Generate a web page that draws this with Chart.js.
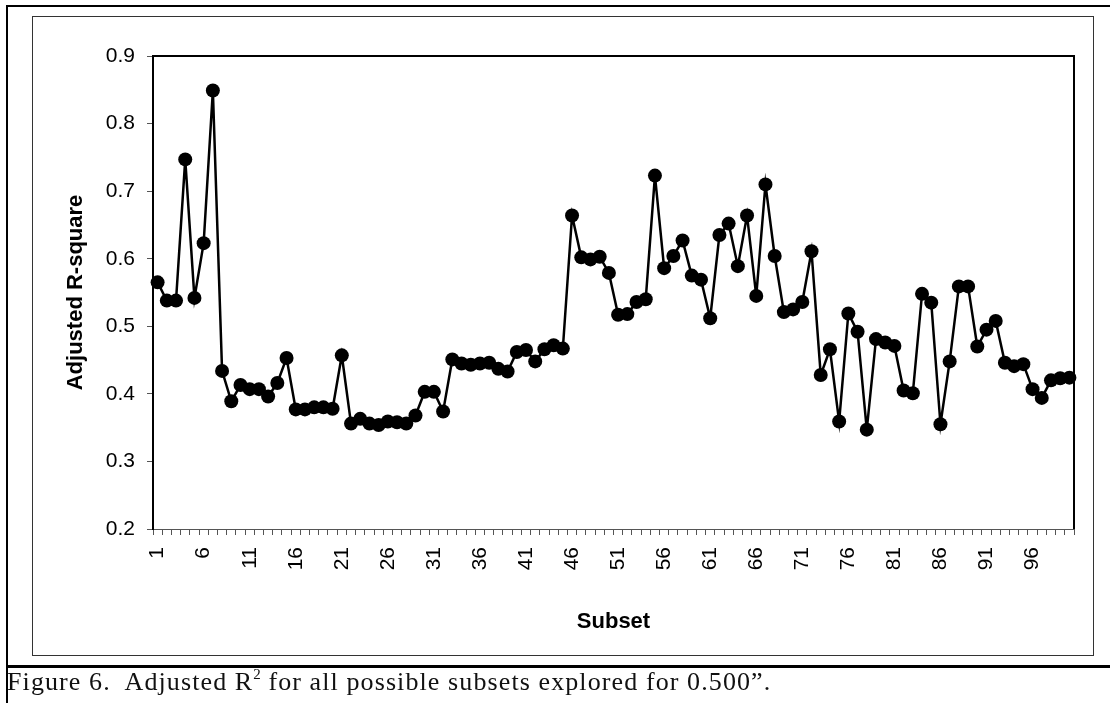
<!DOCTYPE html>
<html>
<head>
<meta charset="utf-8">
<script src="https://cdn.jsdelivr.net/npm/chart.js@4"></script>
<style>
  html, body { margin: 0; padding: 0; background: #fff; }
  #wrap { position: relative; width: 1110px; height: 703px; overflow: hidden; background: #fff; }
  #outerLeft { position: absolute; left: 6px; top: 5px; width: 2px; height: 698px; background: #000; }
  #outerTop { position: absolute; left: 6px; top: 5px; width: 1104px; height: 2px; background: #000; }
  #outerBottom { position: absolute; left: 6px; top: 665px; width: 1104px; height: 3px; background: #000; }
  #frame { position: absolute; left: 32px; top: 16px; width: 1060px; height: 638px; border: 1px solid #333; }
  #cv { position: absolute; left: 0; top: 0; }
  #caption { position: absolute; left: 7px; top: 667px; font-family: "Liberation Serif", serif; font-size: 26px; letter-spacing: 1.1px; color: #111; white-space: nowrap; line-height: 30px; }
  #caption sup { font-size: 15px; vertical-align: 11px; line-height: 0; letter-spacing: 0; }
</style>
</head>
<body>
<div id="wrap">
  <div id="outerLeft"></div>
  <div id="outerTop"></div>
  <div id="frame"></div>
  <div id="outerBottom"></div>
  <canvas id="cv" width="1110" height="703"></canvas>
  <div id="caption">Figure 6.&nbsp; Adjusted R<sup>2</sup> for all possible subsets explored for 0.500”.</div>
</div>
<script>
const subsets = Array.from({length: 100}, (_, i) => String(i + 1));
const adjustedRSquare = [
  0.565, 0.538, 0.538, 0.747, 0.542, 0.623, 0.849, 0.434, 0.389, 0.413,
  0.407, 0.407, 0.396, 0.416, 0.453, 0.377, 0.377, 0.380, 0.380, 0.378,
  0.457, 0.356, 0.363, 0.356, 0.354, 0.359, 0.358, 0.356, 0.368, 0.403,
  0.403, 0.374, 0.451, 0.445, 0.443, 0.445, 0.446, 0.437, 0.433, 0.462,
  0.465, 0.448, 0.466, 0.472, 0.467, 0.664, 0.602, 0.599, 0.603, 0.579,
  0.517, 0.518, 0.536, 0.540, 0.723, 0.586, 0.604, 0.627, 0.575, 0.569,
  0.512, 0.635, 0.652, 0.589, 0.664, 0.545, 0.710, 0.604, 0.521, 0.525,
  0.536, 0.611, 0.428, 0.466, 0.359, 0.519, 0.492, 0.347, 0.481, 0.476,
  0.471, 0.405, 0.401, 0.548, 0.535, 0.355, 0.448, 0.559, 0.559, 0.470,
  0.495, 0.508, 0.446, 0.441, 0.444, 0.407, 0.394, 0.420, 0.423, 0.424
];
const yMin = 0.2, yMax = 0.9, yStep = 0.1;
const xLabelEvery = 5;
const xTitle = 'Subset';
const yTitle = 'Adjusted R-square';

const plotBorder = {
  id: 'plotBorder',
  afterDraw(chart) {
    const {ctx, chartArea: a} = chart;
    ctx.save();
    ctx.strokeStyle = '#000';
    ctx.lineWidth = 2;
    ctx.beginPath();
    ctx.moveTo(a.left, a.top);
    ctx.lineTo(a.right, a.top);
    ctx.lineTo(a.right, a.bottom);
    ctx.stroke();
    ctx.restore();
  }
};

new Chart(document.getElementById('cv'), {
  type: 'line',
  data: {
    labels: subsets,
    datasets: [{
      data: adjustedRSquare,
      borderColor: '#000',
      backgroundColor: '#000',
      borderWidth: 2.5,
      pointRadius: 7,
      pointBackgroundColor: '#000',
      pointBorderColor: '#000',
      pointBorderWidth: 0,
      tension: 0
    }]
  },
  options: {
    responsive: false,
    animation: false,
    events: [],
    layout: { padding: { left: 50, top: 56, right: 36, bottom: 64 } },
    plugins: { legend: { display: false }, tooltip: { enabled: false } },
    scales: {
      x: {
        type: 'category',
        offset: true,
        afterFit(s) { s.height = 110; },
        border: { display: true, color: '#555', width: 1 },
        grid: { display: true, offset: true, drawOnChartArea: false, drawTicks: true, tickLength: 6, color: '#555', lineWidth: 1 },
        ticks: {
          autoSkip: false, minRotation: 90, maxRotation: 90, padding: 12,
          color: '#000', font: { family: 'Liberation Sans, Arial, sans-serif', size: 21 },
          callback(v, i) { return i % xLabelEvery === 0 ? subsets[i] : ''; }
        },
        title: { display: true, text: xTitle, color: '#000', padding: { top: 0, bottom: 4 },
          font: { family: 'Liberation Sans, Arial, sans-serif', size: 22, weight: 'bold' } }
      },
      y: {
        min: yMin, max: yMax,
        afterFit(s) { s.width = 103; },
        border: { display: true, color: '#000', width: 2 },
        grid: { display: true, drawOnChartArea: false, drawTicks: true, tickLength: 6, color: '#555' },
        ticks: {
          stepSize: yStep, padding: 12, color: '#000',
          font: { family: 'Liberation Sans, Arial, sans-serif', size: 21 },
          callback(v) { return Number(v).toFixed(1); }
        },
        title: { display: true, text: yTitle, color: '#000', padding: { top: 13, bottom: 0 },
          font: { family: 'Liberation Sans, Arial, sans-serif', size: 22, weight: 'bold' } }
      }
    }
  },
  plugins: [plotBorder]
});
</script>
</body>
</html>
